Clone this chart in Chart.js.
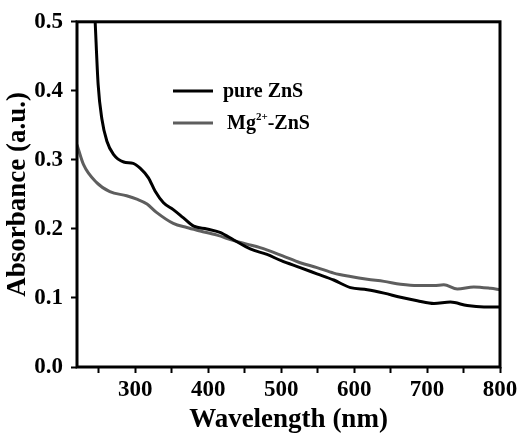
<!DOCTYPE html>
<html>
<head>
<meta charset="utf-8">
<script src="https://cdn.jsdelivr.net/npm/chart.js@4/dist/chart.umd.min.js"></script>
<style>
html,body{margin:0;padding:0;background:#fff;}
#wrap{width:529px;height:436px;position:relative;}
</style>
</head>
<body>
<div id="wrap"><canvas id="c" width="529" height="436"></canvas></div>
<script>
// Data
const pureWavelength = [244.7,249,254,261,270,284,297,306.5,318,327,338.6,352,366,380,398,416,435,457.6,480.5,500,526,549,572,595,618,641,663.7,686.6,709.5,732,755,778,800];
const pureAbsorbance = [0.505,0.409,0.36,0.327,0.308,0.297,0.295,0.288,0.274,0.255,0.238,0.228,0.216,0.204,0.2,0.195,0.184,0.171,0.163,0.154,0.144,0.135,0.126,0.115,0.112,0.107,0.101,0.096,0.092,0.094,0.089,0.087,0.087];
const mgWavelength = [220,229,247,265,288,302,316,329,352,370.6,389,412,435,453,471,502,526,549,572,595,618,641,663.7,686.6,709.5,723,741.5,764,787,800];
const mgAbsorbance = [0.322,0.293,0.267,0.254,0.248,0.243,0.236,0.224,0.208,0.202,0.197,0.191,0.183,0.178,0.173,0.161,0.151,0.144,0.136,0.131,0.127,0.124,0.12,0.118,0.118,0.119,0.113,0.116,0.114,0.112];
const seriesLabels = ['pure ZnS', 'Mg2+-ZnS'];
const xTickValues = [250,300,350,400,450,500,550,600,650,700,750,800];
const yTickValues = [0.0,0.1,0.2,0.3,0.4,0.5];

const FONT = "'Liberation Serif','Times New Roman',serif";

const frame = {
  id: 'frame',
  afterDraw(chart) {
    const {ctx, chartArea: a} = chart;
    ctx.save();
    ctx.strokeStyle = '#000';
    ctx.lineWidth = 3;
    ctx.strokeRect(a.left, a.top, a.right - a.left, a.bottom - a.top);
    // legend
    const items = [
      {y: 91, x: 223, color: '#000', parts: [{t: 'pure ZnS'}]},
      {y: 123, x: 227, color: '#5e5e5e', parts: [{t: 'Mg'}, {t: '2+', sup: true}, {t: '-ZnS'}]}
    ];
    items.forEach(it => {
      ctx.strokeStyle = it.color;
      ctx.lineWidth = 3;
      ctx.beginPath();
      ctx.moveTo(173, it.y);
      ctx.lineTo(213, it.y);
      ctx.stroke();
      let x = it.x;
      ctx.fillStyle = '#000';
      ctx.textBaseline = 'middle';
      ctx.textAlign = 'left';
      it.parts.forEach(p => {
        if (p.sup) {
          ctx.font = 'bold 11px ' + FONT;
          ctx.fillText(p.t, x, it.y - 6);
        } else {
          ctx.font = 'bold 20px ' + FONT;
          ctx.fillText(p.t, x, it.y + 1);
        }
        x += ctx.measureText(p.t).width;
      });
    });
    ctx.restore();
  }
};

new Chart(document.getElementById('c'), {
  type: 'line',
  data: {
    datasets: [
      {
        label: seriesLabels[0],
        data: pureWavelength.map((x, i) => ({x, y: pureAbsorbance[i]})),
        borderColor: '#000',
        borderWidth: 3,
        pointRadius: 0,
        cubicInterpolationMode: 'monotone',
        fill: false
      },
      {
        label: seriesLabels[1],
        data: mgWavelength.map((x, i) => ({x, y: mgAbsorbance[i]})),
        borderColor: '#5e5e5e',
        borderWidth: 3,
        pointRadius: 0,
        cubicInterpolationMode: 'monotone',
        fill: false
      }
    ]
  },
  options: {
    responsive: false,
    animation: false,
    devicePixelRatio: 1,
    layout: {padding: {top: 21, right: 29, left: 0, bottom: 0}},
    plugins: {legend: {display: false}, tooltip: {enabled: false}},
    scales: {
      x: {
        type: 'linear',
        min: 220,
        max: 800,
        afterBuildTicks: s => { s.ticks = xTickValues.map(v => ({value: v})); },
        afterFit: s => { s.height = 69; },
        border: {display: false},
        grid: {drawOnChartArea: false, tickLength: 6, tickWidth: 2, color: '#000'},
        ticks: {
          color: '#000',
          font: {family: FONT, size: 23, weight: 'bold'},
          padding: 3,
          maxRotation: 0,
          autoSkip: false,
          callback: v => (v % 100 === 0 ? String(v) : '')
        },
        title: {
          display: true,
          text: 'Wavelength (nm)',
          color: '#000',
          font: {family: FONT, size: 27, weight: 'bold'},
          padding: {top: 0, bottom: 0}
        }
      },
      y: {
        min: 0,
        max: 0.5,
        afterBuildTicks: s => { s.ticks = yTickValues.map(v => ({value: v})); },
        afterFit: s => { s.width = 77; },
        border: {display: false},
        grid: {drawOnChartArea: false, tickLength: 6, tickWidth: 2, color: '#000'},
        ticks: {
          color: '#000',
          font: {family: FONT, size: 23, weight: 'bold'},
          padding: 8,
          callback: v => Number(v).toFixed(1)
        },
        title: {
          display: true,
          text: 'Absorbance (a.u.)',
          color: '#000',
          font: {family: FONT, size: 27, weight: 'bold'},
          padding: {top: 2, bottom: 0}
        }
      }
    }
  },
  plugins: [frame]
});
</script>
</body>
</html>
